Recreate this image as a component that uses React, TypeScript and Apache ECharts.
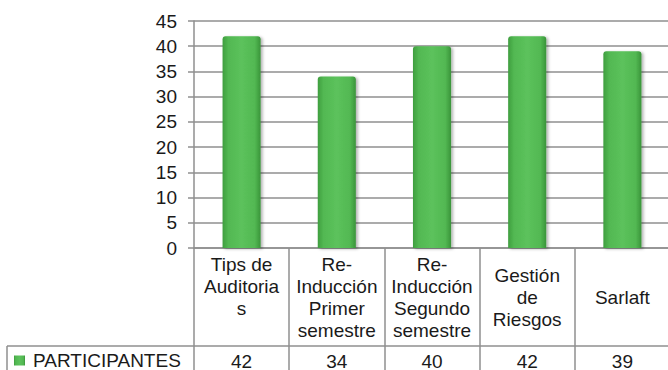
import React, { useEffect, useRef } from "react";
import * as echarts from "echarts";

const categories = [
  "Tips de\nAuditoria\ns\n ",
  "Re-\nInducción\nPrimer\nsemestre",
  "Re-\nInducción\nSegundo\nsemestre",
  "Gestión\nde\nRiesgos",
  "Sarlaft",
];
const participantes = [42, 34, 40, 42, 39];
const seriesName = "PARTICIPANTES";
const yTicks = { min: 0, max: 45, interval: 5 };

const FONT = "'Liberation Sans', Arial, sans-serif";
const LINE = "#8f8f8f";
const TXT = "#1a1a1a";

export default function App() {
  const ref = useRef<HTMLDivElement>(null);
  useEffect(() => {
    document.body.style.margin = "0";
    if (!ref.current) return;
    const chart = echarts.init(ref.current, undefined, { renderer: "svg" });
    const barColor = new echarts.graphic.LinearGradient(0, 0, 1, 0, [
      { offset: 0, color: "#3f9e3f" },
      { offset: 0.15, color: "#52b852" },
      { offset: 0.5, color: "#5cc25c" },
      { offset: 0.85, color: "#52b852" },
      { offset: 1, color: "#3a943a" },
    ]);
    chart.setOption({
      animation: false,
      textStyle: { fontFamily: FONT },
      grid: {
        left: 194,
        top: 21,
        width: 476,
        height: 227,
        containLabel: false,
        outerBoundsMode: "none",
      },
      legend: {
        show: true,
        left: 14,
        top: 351,
        icon: "rect",
        itemWidth: 11,
        itemHeight: 10,
        itemGap: 6,
        padding: 0,
        textStyle: { fontSize: 19, color: TXT, fontFamily: FONT, padding: [0, 0, 0, 3] },
        data: [seriesName],
      },
      xAxis: [
        {
          type: "category",
          data: categories,
          axisLine: { show: true, lineStyle: { color: LINE, width: 1.5 } },
          axisTick: { show: true, length: 122, lineStyle: { color: LINE, width: 1.5 } },
          axisLabel: {
            interval: 0,
            margin: 49,
            verticalAlign: "middle",
            fontSize: 19,
            lineHeight: 22,
            color: TXT,
            fontFamily: FONT,
          },
        },
        {
          type: "category",
          position: "bottom",
          data: categories,
          axisLine: { show: false },
          axisTick: { show: false },
          axisLabel: {
            interval: 0,
            margin: 113,
            verticalAlign: "middle",
            fontSize: 19,
            color: TXT,
            fontFamily: FONT,
            formatter: (_v: string, idx: number) => String(participantes[idx]),
          },
        },
      ],
      yAxis: {
        type: "value",
        min: yTicks.min,
        max: yTicks.max,
        interval: yTicks.interval,
        axisLine: { show: true, lineStyle: { color: LINE, width: 1.5 } },
        axisTick: { show: true, length: 6, lineStyle: { color: LINE, width: 1.5 } },
        axisLabel: { fontSize: 19, color: TXT, margin: 17, fontFamily: FONT },
        splitLine: { show: true, lineStyle: { color: LINE, width: 1.5 } },
      },
      graphic: [
        { type: "line", shape: { x1: 7, y1: 346, x2: 668, y2: 346 }, style: { stroke: LINE, lineWidth: 1.5 } },
        { type: "line", shape: { x1: 7, y1: 346, x2: 7, y2: 370 }, style: { stroke: LINE, lineWidth: 1.5 } },
      ],
      series: [
        {
          name: seriesName,
          type: "bar",
          xAxisIndex: 0,
          data: participantes,
          barWidth: "40%",
          itemStyle: {
            color: barColor,
            borderRadius: [3, 3, 0, 0],
            shadowColor: "rgba(0,0,0,0.3)",
            shadowBlur: 3,
            shadowOffsetX: 2,
            shadowOffsetY: 1,
          },
        },
      ],
    });
    return () => chart.dispose();
  }, []);
  return <div ref={ref} style={{ width: 668, height: 370 }} />;
}
